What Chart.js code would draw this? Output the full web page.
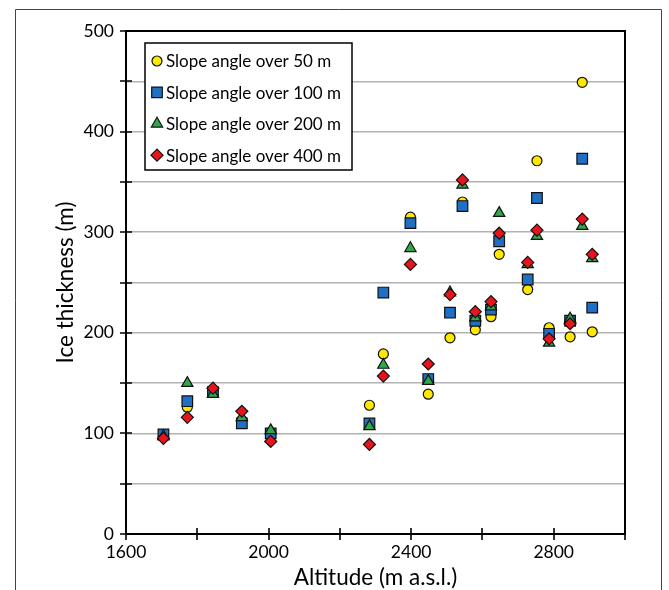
<!DOCTYPE html>
<html>
<head>
<meta charset="utf-8">
<script src="https://cdn.jsdelivr.net/npm/chart.js@4.4.1/dist/chart.umd.min.js"></script>
<style>
html,body{margin:0;padding:0;background:#fff}
#wrap{width:669px;height:590px;position:relative}
</style>
</head>
<body>
<div id="wrap"><canvas id="c" width="669" height="590"></canvas></div>
<script>
// altitude of each sampled glacier (m a.s.l.)
const altitudes = [1705,1772,1844,1925,2006,2283,2322,2398,2448,2509,2544,2580,2624,2647,2727,2753,2787,2846,2880,2908]

// ice thickness (m) for each slope window
const slope50  = [97,126,143,113,100,128,179,315,139,195,330,203,216,278,243,371,205,196,449,201]
const slope100 = [99,132,141,110,100,110,240,309,154,220,326,212,223,291,253,334,199,212,373,225]
const slope200 = [97,150,139,116,103,107,168,284,152,240,347,215,226,319,268,296,190,214,306,274]
const slope400 = [95,116,145,122,92,89,157,268,169,238,352,221,231,299,270,302,194,209,313,278]

const seriesNames = ["Slope angle over 50 m","Slope angle over 100 m","Slope angle over 200 m","Slope angle over 400 m"]
const xTickLabels = [1600,2000,2400,2800]
const yTickLabels = [0,100,200,300,400,500]

const FONT = "Lato"

const styles = [
{color:"#ffe800", shape:"circle", r:5},
{color:"#1f6fc4", shape:"rect", r:7.5},
{color:"#2ea84a", shape:"triangle", r:6.5},
{color:"#e8141c", shape:"rectRot", r:6}
]

const allSeries = [slope50, slope100, slope200, slope400]

const datasets = allSeries.map((vals,k)=>({
label: seriesNames[k],
data: altitudes.map((a,i)=>({x:a, y:vals[i]})),
pointStyle: styles[k].shape,
pointRadius: styles[k].r,
pointHoverRadius: styles[k].r,
backgroundColor: styles[k].color,
borderColor: "#111",
borderWidth: 1.2,
showLine: false,
order: 4-k   /* red on top */
}))

/* frame, cross ticks and boxed legend */
const decor = {
id:"decor",
beforeDraw(chart){
const ctx = chart.ctx
ctx.save()
ctx.fillStyle = "#fff"
ctx.fillRect(0,0,chart.width,chart.height)
ctx.strokeStyle = "#444"
ctx.lineWidth = 1
ctx.beginPath()
ctx.moveTo(15.5,600); ctx.lineTo(15.5,9.5); ctx.lineTo(661.5,9.5); ctx.lineTo(661.5,600)
ctx.stroke()
ctx.restore()
},
afterDraw(chart){
const {ctx, chartArea:a, scales:{x,y}} = chart
ctx.save()
ctx.strokeStyle = "#000"
ctx.lineWidth = 2
ctx.strokeRect(a.left,a.top,a.right-a.left,a.bottom-a.top)

ctx.lineWidth = 1.6
ctx.beginPath()
for(let v=0; v<=500; v+=50){
const py = Math.round(y.getPixelForValue(v))
ctx.moveTo(a.left-6,py); ctx.lineTo(a.left+6,py)
}
for(let v=1600; v<=3000; v+=200){
const px = Math.round(x.getPixelForValue(v))
ctx.moveTo(px,a.bottom-6); ctx.lineTo(px,a.bottom+6)
}
ctx.stroke()

// legend
const bx=145, by=43, bw=207, bh=127
ctx.fillStyle = "#fff"
ctx.fillRect(bx,by,bw,bh)
ctx.lineWidth = 1.5
ctx.strokeStyle = "#000"
ctx.strokeRect(bx,by,bw,bh)
ctx.font = "17px " + FONT
ctx.textBaseline = "middle"
seriesNames.forEach((name,k)=>{
const ry = 61 + k*31.4
ctx.fillStyle = styles[k].color
ctx.strokeStyle = "#111"
ctx.lineWidth = 1.2
Chart.helpers.drawPoint(ctx,{pointStyle:styles[k].shape, radius:styles[k].r, rotation:0, borderWidth:1.2},157,ry)
ctx.fillStyle = "#000"
ctx.fillText(name,166,ry+1)
})
ctx.restore()
}
}

new Chart(document.getElementById("c"),{
type:"scatter",
data:{datasets},
plugins:[decor],
options:{
responsive:false,
animation:false,
events:[],
layout:{padding:{top:31,right:44,left:0,bottom:0}},
plugins:{
legend:{display:false},
tooltip:{enabled:false}
},
scales:{
x:{
type:"linear",
min:1600,
max:3000,
afterFit(s){ s.height = 56 },
ticks:{
stepSize:200,
autoSkip:false,
maxRotation:0,
padding:8,
color:"#000",
font:{family:FONT,size:17.5},
callback:v => xTickLabels.includes(v) ? String(v) : ""
},
grid:{display:false, drawTicks:false},
border:{color:"#000", width:2},
title:{display:true, text:"Altitude (m a.s.l.)", color:"#000", font:{family:FONT,size:22.5}, padding:{top:0,bottom:-1}}
},
y:{
min:0,
max:500,
afterFit(s){ s.width = 126 },
ticks:{
stepSize:50,
autoSkip:false,
padding:12,
color:"#000",
font:{family:FONT,size:17.5},
callback:v => yTickLabels.includes(v) ? String(v) : ""
},
grid:{color:"#b2b2b2", lineWidth:1.5, drawTicks:false},
border:{color:"#000", width:2},
title:{display:true, text:"Ice thickness (m)", color:"#000", font:{family:FONT,size:22.5}, padding:{top:52,bottom:0}}
}
}
}
})
</script>
</body>
</html>
